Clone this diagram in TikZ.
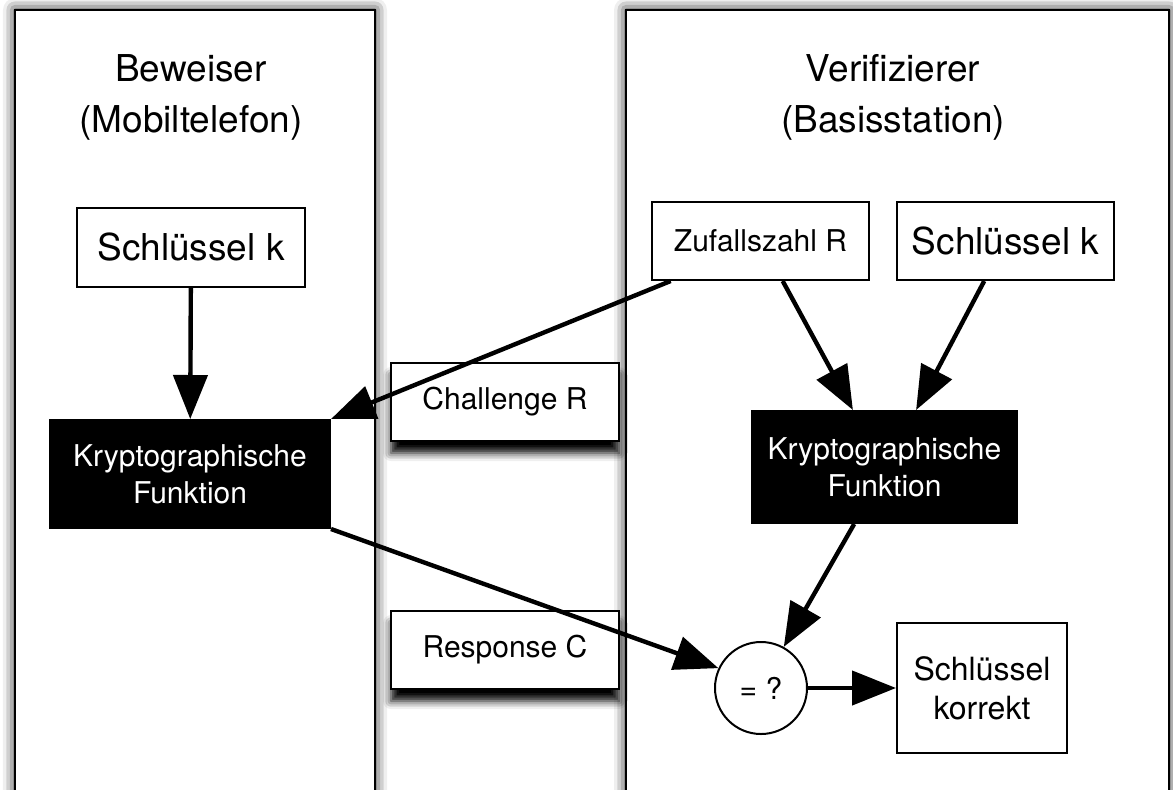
\documentclass[tikz,border=0pt]{standalone}
\usepackage{fontspec}
\setmainfont{TeX Gyre Heros}
\usetikzlibrary{arrows.meta,shadows.blur,shapes}

\begin{document}
\begin{tikzpicture}[x=0.5pt,y=-0.5pt,
  panel/.style={draw,line width=1.3pt,fill=white,
    blur shadow={shadow xshift=0pt,shadow yshift=0pt,shadow blur radius=6pt,shadow opacity=100}},
  box/.style={draw,line width=1pt,fill=white,inner sep=0pt,align=center},
  kfun/.style={box,fill=black,text=white},
  msg/.style={box,blur shadow={shadow xshift=0pt,shadow yshift=-6pt,shadow blur radius=4pt,shadow opacity=100}},
  arr/.style={line width=2.2pt,-{Triangle[length=22pt,width=17pt,fill=black]}},
  big/.style={font=\fontsize{18.5}{25.5}\selectfont},
  small/.style={font=\fontsize{15}{18.5}\selectfont}]
\useasboundingbox (0,0) rectangle (1173,789);

% Two parties
\draw[panel] (15,10) rectangle (375,830);
\draw[panel] (626,10) rectangle (1169,830);
\node[big,align=center] (prover) at (191,97) {Beweiser\\(Mobiltelefon)};
\node[big,align=center] (verifier) at (893,97) {Verifizierer\\(Basisstation)};

% Prover side
\node[box,big,minimum width=114pt,minimum height=39.5pt] (keyL) at (191,247.5) {Schlüssel k};
\node[kfun,small,minimum width=140pt,minimum height=54pt] (cryptL) at (190,474) {Kryptographische\\Funktion};

% Verifier side
\node[box,small,minimum width=108.5pt,minimum height=39pt] (rand) at (760.5,241) {Zufallszahl R};
\node[box,big,minimum width=108.5pt,minimum height=39pt] (keyR) at (1005.5,241) {Schlüssel k};
\node[kfun,small,minimum width=132.5pt,minimum height=56pt] (cryptR) at (884.5,467) {Kryptographische\\Funktion};
\node[box,circle,small,minimum size=46pt] (cmp) at (761,688) {= ?};
\node[box,font=\fontsize{16}{19.5}\selectfont,minimum width=85pt,minimum height=65pt] (ok) at (982,688) {Schlüssel\\korrekt};

% Messages in between
\node[msg,small,minimum width=114pt,minimum height=39pt] (chal) at (505,402) {Challenge R};
\node[msg,small,minimum width=114pt,minimum height=39pt] (resp) at (505,650) {Response C};

% Flow
\draw[arr] (keyL) -- (cryptL);
\draw[arr] (rand.204) -- (cryptL.north east);
\draw[arr] (rand.299) -- (cryptR.119);
\draw[arr] (keyR.242) -- (cryptR.61);
\draw[arr] (cryptL.south east) -- (cmp.155);
\draw[arr] (cryptR.242) -- (cmp.61);
\draw[arr] (cmp) -- (ok);
\end{tikzpicture}
\end{document}
